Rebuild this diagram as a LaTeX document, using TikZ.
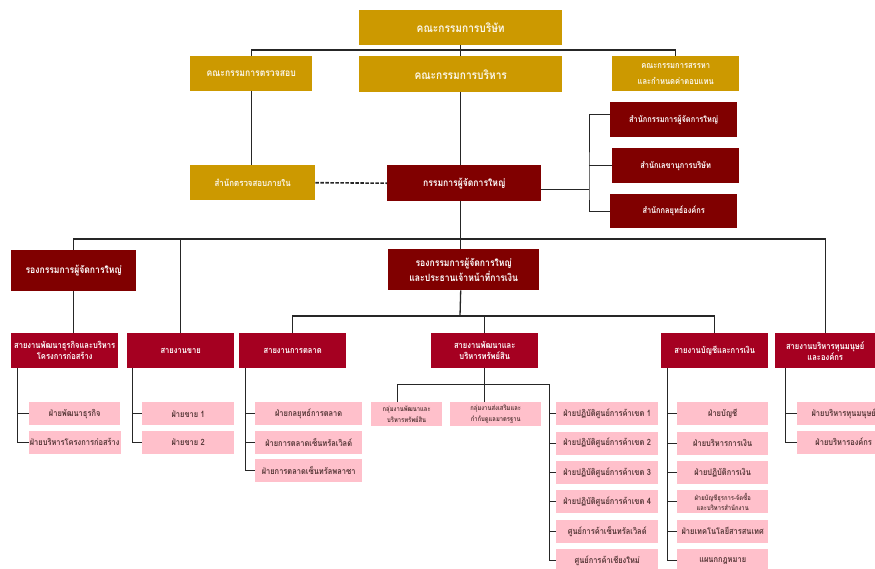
\documentclass[tikz,border=0pt]{standalone}
\usepackage{fontspec}
\setmainfont[Script=Thai, FakeStretch=0.86]{Loma}
\usetikzlibrary{calc, positioning}
\definecolor{boardgold}{RGB}{204,153,0}
\definecolor{mdred}{RGB}{128,0,0}
\definecolor{divred}{RGB}{165,0,33}
\definecolor{deptpink}{RGB}{255,192,203}
\definecolor{depttext}{RGB}{85,55,55}

\begin{document}
\begin{tikzpicture}[
    x=1pt, y=-1pt,
    node distance=6pt,
    unit/.style={rectangle, inner sep=1pt, anchor=north west, align=center, text=white},
    board/.style={unit, fill=boardgold, text=white!92!boardgold},
    office/.style={unit, fill=mdred},
    division/.style={unit, fill=divred, minimum width=107pt, minimum height=35pt, font=\fontsize{8.8}{11}\selectfont\bfseries},
    dept/.style={unit, fill=deptpink, text=depttext, minimum height=23pt, font=\fontsize{8.7}{9}\selectfont\bfseries},
    big/.style={font=\fontsize{11.8}{13}\selectfont\bfseries},
    mid/.style={font=\fontsize{10}{15}\selectfont\bfseries},
    small/.style={font=\fontsize{8.6}{10}\selectfont\bfseries},
    tiny/.style={font=\fontsize{6.8}{10.5}\selectfont\bfseries},
    link/.style={draw=black!85, line width=1.3pt},
    sublink/.style={draw=black!85, line width=1pt}
]
    \useasboundingbox (0,0) rectangle (875,568);

    % board level
    \node [board, big, minimum width=203pt, minimum height=35pt] (board) at (359,10) {คณะกรรมการบริษัท};
    \node [board, mid, minimum width=122pt, minimum height=35pt] (audit) at (190,56) {คณะกรรมการตรวจสอบ};
    \node [board, big, minimum width=203pt, minimum height=36pt] (exec) at (359,56) {คณะกรรมการบริหาร};
    \node [board, font=\fontsize{8.8}{16}\selectfont\bfseries, minimum width=127pt, minimum height=35pt] (nomin) at (612,56) {คณะกรรมการสรรหา\\และกำหนดค่าตอบแทน};
    \node [board, font=\fontsize{9.2}{10}\selectfont\bfseries, minimum width=125pt, minimum height=35pt] (intaudit) at (190,165) {สำนักตรวจสอบภายใน};

    % management
    \node [office, mid, minimum width=154pt, minimum height=36pt] (ceo) at (387,165) {กรรมการผู้จัดการใหญ่};
    \node [office, small, minimum width=127pt, minimum height=35pt] (off1) at (610,102) {สำนักกรรมการผู้จัดการใหญ่};
    \node [office, small, minimum width=127pt, minimum height=35pt] (off2) at (612,148) {สำนักเลขานุการบริษัท};
    \node [office, small, minimum width=127pt, minimum height=34pt] (off3) at (610,194) {สำนักกลยุทธ์องค์กร};
    \node [office, mid, minimum width=125pt, minimum height=41pt] (vp1) at (11,250) {รองกรรมการผู้จัดการใหญ่};
    \node [office, mid, minimum width=151pt, minimum height=41pt] (vp2) at (388,249) {รองกรรมการผู้จัดการใหญ่\\และประธานเจ้าหน้าที่การเงิน};

    % divisions
    \node [division] (bizdev) at (11,333) {สายงานพัฒนาธุรกิจและบริหาร\\โครงการก่อสร้าง};
    \node [division] (sales) at (127,333) {สายงานขาย};
    \node [division] (mkt) at (239,333) {สายงานการตลาด};
    \node [division] (asset) at (431,333) {สายงานพัฒนาและ\\บริหารทรัพย์สิน};
    \node [division] (fin) at (661,333) {สายงานบัญชีและการเงิน};
    \node [division, minimum width=100pt] (hr) at (775,333) {สายงานบริหารทุนมนุษย์\\และองค์กร};

    % departments
    \node [dept, minimum width=91pt] (bd1) at (29,402) {ฝ่ายพัฒนาธุรกิจ};
    \node [dept, minimum width=91pt, below=5pt of bd1] (bd2) {ฝ่ายบริหารโครงการก่อสร้าง};
    \node [dept, minimum width=92pt] (sl1) at (142,402) {ฝ่ายขาย 1};
    \node [dept, minimum width=92pt, below=5pt of sl1] (sl2) {ฝ่ายขาย 2};
    \node [dept, minimum width=107pt] (mk1) at (255,402) {ฝ่ายกลยุทธ์การตลาด};
    \node [dept, minimum width=107pt, below=5pt of mk1] (mk2) {ฝ่ายการตลาดเซ็นทรัลเวิลด์};
    \node [dept, minimum width=107pt, below=5pt of mk2] (mk3) {ฝ่ายการตลาดเซ็นทรัลพลาซา};
    \node [dept, tiny, minimum width=71pt, minimum height=24pt, inner sep=0pt] (as1) at (371,402) {กลุ่มงานพัฒนาและ\\บริหารทรัพย์สิน};
    \node [dept, tiny, minimum width=91pt, minimum height=24pt, inner sep=0pt] (as2) at (450,402) {กลุ่มงานส่งเสริมและ\\กำกับดูแลมาตรฐาน};
    \node [dept, minimum width=102pt] (tc1) at (556,402) {ฝ่ายปฏิบัติศูนย์การค้าเขต 1};
    \node [dept, minimum width=102pt, below=6pt of tc1] (tc2) {ฝ่ายปฏิบัติศูนย์การค้าเขต 2};
    \node [dept, minimum width=102pt, below=6pt of tc2] (tc3) {ฝ่ายปฏิบัติศูนย์การค้าเขต 3};
    \node [dept, minimum width=102pt, below=6pt of tc3] (tc4) {ฝ่ายปฏิบัติศูนย์การค้าเขต 4};
    \node [dept, minimum width=102pt, below=6pt of tc4] (tc5) {ศูนย์การค้าเซ็นทรัลเวิลด์};
    \node [dept, minimum width=102pt, below=6pt of tc5] (tc6) {ศูนย์การค้าเชียงใหม่};
    \node [dept, minimum width=91pt] (fn1) at (677,402) {ฝ่ายบัญชี};
    \node [dept, minimum width=91pt, below=6pt of fn1] (fn2) {ฝ่ายบริหารการเงิน};
    \node [dept, minimum width=91pt, below=6pt of fn2] (fn3) {ฝ่ายปฏิบัติการเงิน};
    \node [dept, tiny, minimum width=91pt, inner sep=0pt, below=6pt of fn3] (fn4) {ฝ่ายบัญชีธุรการ-จัดซื้อ\\และบริหารสำนักงาน};
    \node [dept, minimum width=91pt, below=6pt of fn4] (fn5) {ฝ่ายเทคโนโลยีสารสนเทศ};
    \node [dept, minimum width=91pt, below=6pt of fn5] (fn6) {แผนกกฎหมาย};
    \node [dept, minimum width=93pt] (hr1) at (797,402) {ฝ่ายบริหารทุนมนุษย์};
    \node [dept, minimum width=93pt, below=5pt of hr1] (hr2) {ฝ่ายบริหารองค์กร};

    % connectors
    \coordinate (topbar) at (460,50);
    \coordinate (mainbar) at (460,239);
    \coordinate (subbar) at (460,316);
    \coordinate (brk) at (589,189);
    \coordinate (abar) at (549,384);

    \draw [link] (board.south) -- (exec.north);
    \draw [link] (audit.north) |- (topbar) -| (nomin.north);
    \draw [sublink] (audit.south) -- (audit.south |- intaudit.north);
    \draw [link] (exec.south) -- (exec.south |- ceo.north);
    \draw [link, line width=1.6pt, dash pattern=on 3.5pt off 1.5pt] (intaudit.east) -- (ceo.west);
    \draw [sublink] (ceo.east |- brk) -- (brk);
    \draw [sublink] ([yshift=5.5pt]off1.west) -| (brk) |- (off3.west);
    \draw [sublink] (brk |- off2.west) -- (off2.west);
    \draw [link] (exec.south |- ceo.south) -- (exec.south |- vp2.north);
    \draw [link] (vp1.north) |- (mainbar) -| (hr.north);
    \draw [link] (sales.north) -- (sales.north |- mainbar);
    \draw [link] (vp1.south) -- (vp1.south |- bizdev.north);
    \draw [link] (exec.south |- vp2.south) -- (subbar);
    \draw [link] (mkt.north) |- (subbar) -| (fin.north);
    \draw [link] (asset.north) -- (asset.north |- subbar);

    \draw [sublink] ($(bizdev.south west)+(6,0)$) |- (bd1.west) ($(bizdev.south west)+(6,0)$) |- (bd2.west);
    \draw [sublink] ($(sales.south west)+(5,0)$) |- (sl1.west) ($(sales.south west)+(5,0)$) |- (sl2.west);
    \draw [sublink] ($(mkt.south west)+(6,0)$) |- (mk1.west) ($(mkt.south west)+(6,0)$) |- (mk2.west) ($(mkt.south west)+(6,0)$) |- (mk3.west);
    \draw [sublink] (asset.south) -- (asset.south |- as2.north);
    \draw [sublink] ([xshift=-9.5pt]as1.north) |- (abar) |- (tc6.west);
    \draw [sublink] (abar) |- (tc1.west) (abar) |- (tc2.west) (abar) |- (tc3.west) (abar) |- (tc4.west) (abar) |- (tc5.west);
    \draw [sublink] ($(fin.south west)+(6,0)$) |- (fn1.west) ($(fin.south west)+(6,0)$) |- (fn2.west) ($(fin.south west)+(6,0)$) |- (fn3.west)
        ($(fin.south west)+(6,0)$) |- (fn4.west) ($(fin.south west)+(6,0)$) |- (fn5.west) ($(fin.south west)+(6,0)$) |- (fn6.west);
    \draw [sublink] ($(hr.south west)+(10,0)$) |- (hr1.west) ($(hr.south west)+(10,0)$) |- (hr2.west);
\end{tikzpicture}
\end{document}
